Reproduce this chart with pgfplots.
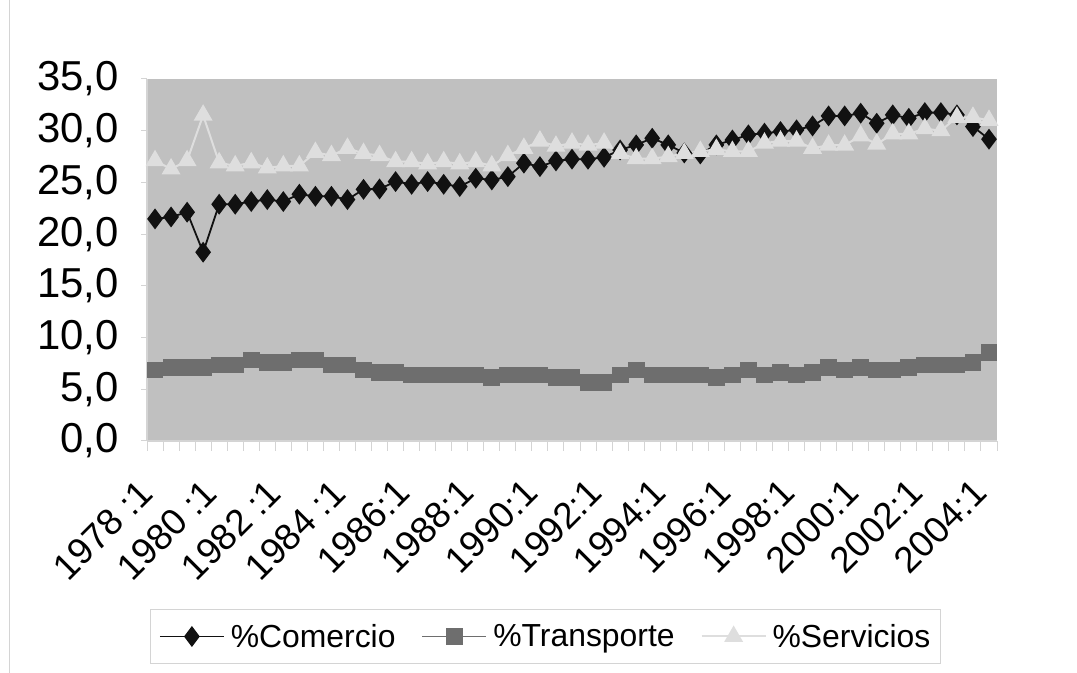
\documentclass[border=0pt]{standalone}
\usepackage{fontspec}
\setmainfont{Liberation Sans}
\usepackage{pgfplots}
\usepackage{pgfplotstable}
\pgfplotsset{compat=1.18}
\definecolor{plotbg}{HTML}{C0C0C0}
\definecolor{comc}{HTML}{111111}
\definecolor{trac}{HTML}{6E6E6E}
\definecolor{serc}{HTML}{DEDEDE}
\definecolor{axc}{HTML}{D4D4D4}

\pgfplotstableread{
i  com    tra   ser
0  21.47  6.87  27.1
1  21.66  7.09  26.3
2  22.12  7.09  27.1
3  18.25  7.09  31.5
4  22.89  7.35  26.9
5  22.89  7.35  26.6
6  23.15  7.83  26.9
7  23.34  7.57  26.4
8  23.15  7.57  26.6
9  23.86  7.83  26.6
10 23.66  7.83  27.9
11 23.66  7.35  27.6
12 23.34  7.35  28.3
13 24.33  6.87  27.8
14 24.37  6.61  27.6
15 25.08  6.61  27.0
16 24.82  6.38  27.0
17 25.08  6.38  26.8
18 24.82  6.38  27.0
19 24.60  6.38  26.8
20 25.40  6.38  27.0
21 25.24  6.16  26.6
22 25.56  6.38  27.6
23 26.86  6.38  28.3
24 26.53  6.38  29.0
25 27.08  6.16  28.5
26 27.25  6.16  28.8
27 27.24  5.68  28.6
28 27.43  5.68  28.8
29 28.14  6.38  27.8
30 28.63  6.87  27.3
31 29.27  6.38  27.3
32 28.63  6.38  27.5
33 27.85  6.38  27.8
34 27.75  6.38  28.0
35 28.63  6.16  28.2
36 29.10  6.38  28.0
37 29.60  6.87  28.0
38 29.76  6.38  28.8
39 29.92  6.64  29.0
40 30.08  6.38  29.0
41 30.46  6.64  28.3
42 31.43  7.13  28.6
43 31.43  6.87  28.6
44 31.69  7.13  29.5
45 30.72  6.87  28.7
46 31.53  6.87  29.7
47 31.20  7.13  29.7
48 31.75  7.35  30.2
49 31.75  7.35  30.0
50 31.53  7.35  31.3
51 30.40  7.61  31.3
52 29.18  8.58  31.0
}\datatab

\begin{document}
\begin{tikzpicture}[x=1bp,y=1bp]
\useasboundingbox (0,0) rectangle (1077,673);
\draw[axc, line width=1bp] (9,0) -- (9,673);
\begin{axis}[
  at={(147bp,232bp)}, anchor=south west,
  scale only axis, width=850bp, height=362bp,
  xmin=-0.5, xmax=52.5, ymin=0, ymax=35,
  axis background/.style={fill=plotbg},
  axis x line*=bottom, axis y line*=left,
  axis line style={axc, line width=1.2bp, -},
  tick align=outside,
  xtick={0,4,...,52},
  xticklabels={1978 :1,1980 :1,1982 :1,1984 :1,1986:1,1988:1,1990:1,1992:1,1994:1,1996:1,1998:1,2000:1,2002:1,2004:1},
  every major x tick/.style={draw opacity=0},
  minor xtick={-0.5,0.5,...,52.5},
  minor tick length=10bp,
  major tick length=6bp,
  every tick/.style={axc, line width=1bp},
  x tick label style={xshift=-18bp, yshift=-30bp, rotate=45, anchor=north east, inner sep=0pt,
    font=\fontsize{37}{37}\selectfont},
  ytick={0,5,...,35},
  y tick label style={font=\fontsize{42}{42}\selectfont, inner sep=0pt, xshift=-22bp},
  yticklabel style={/pgf/number format/.cd, use comma, fixed, fixed zerofill, precision=1, assume math mode=true},
  legend style={at={(0.469,-0.540)}, anchor=center, draw=axc, fill=white,
    line width=1bp, font=\fontsize{32}{32}\selectfont, legend columns=3,
    inner xsep=8bp, inner ysep=13bp,
    /tikz/every even column/.append style={column sep=24bp},
    /tikz/every odd column/.append style={column sep=4bp}},
  legend cell align=left,
  legend image code/.code={\draw[mark repeat=2,mark phase=2] plot coordinates {(0bp,0bp) (32bp,0bp) (64bp,0bp)};},
  clip=false,
]
\addplot[comc, line width=1.8bp, mark=diamond*, mark size=9bp, mark options={solid, fill=comc, draw=comc}] table[x=i, y=com] {\datatab};
\addlegendentry{\%Comercio}
\addplot[trac, line width=1.8bp, mark=square*, mark size=7.5bp, mark options={solid, fill=trac, draw=trac}] table[x=i, y=tra] {\datatab};
\addlegendentry{\%Transporte}
\addplot[serc, line width=2bp, mark=triangle*, mark size=9bp, mark options={solid, fill=serc, draw=serc}] table[x=i, y=ser] {\datatab};
\addlegendentry{\%Servicios}
\end{axis}
\end{tikzpicture}
\end{document}
